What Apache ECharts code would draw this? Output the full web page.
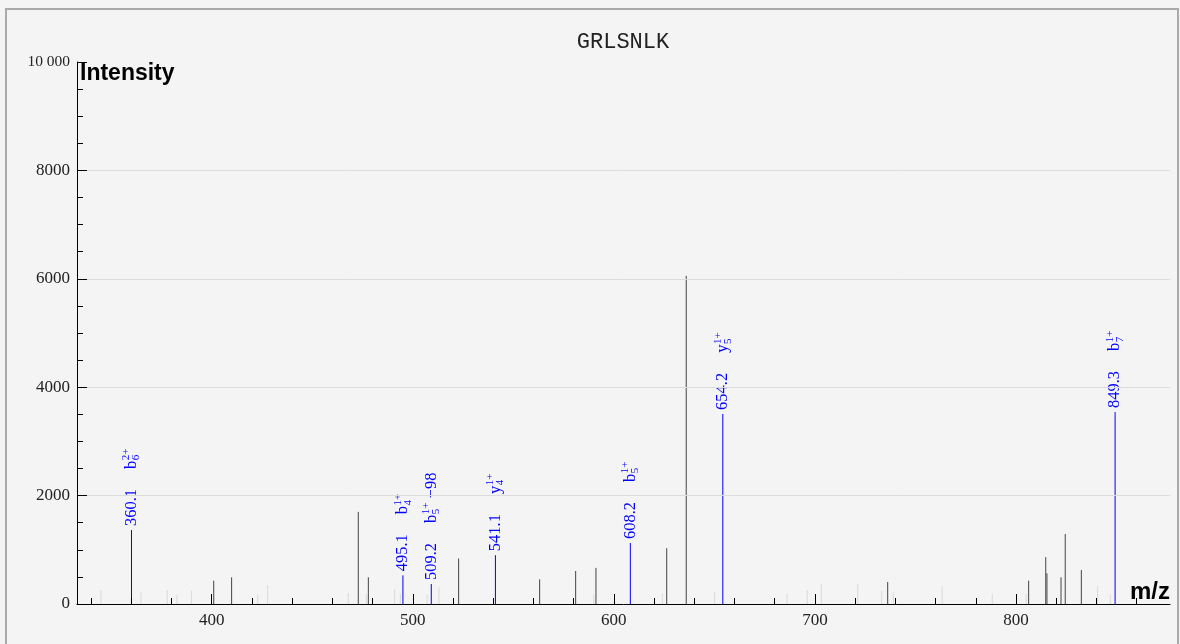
<!DOCTYPE html>
<html>
<head>
<meta charset="utf-8">
<script src="https://cdn.jsdelivr.net/npm/echarts@6/dist/echarts.min.js"></script>
<style>
  html, body { margin: 0; padding: 0; background: #f4f4f4; }
  #spectrum { width: 1180px; height: 644px; }
  #frame { position: absolute; left: 5px; top: 8px; width: 1170px; height: 660px; border: 2px solid #aaa; pointer-events: none; }
</style>
</head>
<body>
<div id="spectrum"></div>
<div id="frame"></div>
<script>
var peptide = 'GRLSNLK';

// unmatched peaks (dark)
var peakMz  = [401.0, 409.9, 472.9, 477.9, 522.8, 563.1, 581.0, 591.1, 626.3, 636.0, 736.2, 806.3, 814.8, 815.4, 822.4, 824.5, 832.5];
var peakInt = [430, 492, 1700, 492, 840, 455, 609, 667, 1030, 6055, 406, 430, 865, 566, 492, 1291, 627];

// faint peaks (light grey)
var faintMz  = [344.9, 364.8, 377.9, 382.7, 389.9, 422.9, 427.8, 467.9, 476.9, 491.0, 493.8, 507.1, 513.0, 590.0, 624.1, 650.1, 686.1, 696.2, 703.2, 721.3, 733.2, 739.0, 763.3, 788.2, 805.1, 840.6, 846.9];
var faintInt = [258, 221, 258, 172, 246, 178, 344, 200, 184, 271, 184, 172, 310, 172, 190, 215, 190, 258, 363, 363, 246, 221, 332, 184, 184, 332, 172];

// matched fragment ions
var ionMz     = [360.1, 495.1, 509.2, 541.1, 608.2, 654.2, 849.3];
var ionInt    = [1365, 529, 369, 900, 1125, 3506, 3541];
var ionType   = ['b', 'b', 'b', 'y', 'b', 'y', 'b'];
var ionIndex  = ['6', '4', '5', '4', '5', '5', '7'];
var ionCharge = ['2+', '1+', '1+', '1+', '1+', '1+', '1+'];
var ionLoss   = ['', '', '\u221298', '', '', '', ''];

// axis ticks
var xMajorTicks = [400, 500, 600, 700, 800];
var xMinorTicks = [340, 360, 380, 420, 440, 460, 480, 520, 540, 560, 580, 620, 640, 660, 680, 720, 740, 760, 780, 820, 840, 860];
var yTicks    = [0, 2000, 4000, 6000, 8000, 10000];
var yTickText = ['0', '2000', '4000', '6000', '8000', '{s|10 000}'];

var serif = 'Liberation Serif';
var blue = '#0000ff';
var numSize = 16.5, smallSize = 11;

var measureCtx = document.createElement('canvas').getContext('2d');
function textWidth(t, size) {
  measureCtx.font = size + 'px "' + serif + '"';
  return measureCtx.measureText(t).width;
}

function stick(color) {
  return function (params, api) {
    var base = api.coord([api.value(0), 0]);
    var top = api.coord([api.value(0), api.value(1)]);
    return {
      type: 'line',
      shape: { x1: base[0], y1: base[1], x2: top[0], y2: top[1] },
      style: { stroke: color, lineWidth: 1 }
    };
  };
}

function txt(x, y, text, size) {
  return {
    type: 'text', x: x, y: y,
    style: {
      text: text, fontSize: size, fontFamily: serif, fill: blue,
      align: 'left', verticalAlign: 'middle', textAlign: 'left', textVerticalAlign: 'middle'
    }
  };
}

function renderIon(params, api) {
  var i = params.dataIndex;
  var base = api.coord([api.value(0), 0]);
  var top = api.coord([api.value(0), api.value(1)]);
  var num = ionMz[i].toFixed(1);
  var x0 = textWidth(num, numSize) + 20;
  var x1 = x0 + textWidth(ionType[i], numSize) + 0.5;
  var stackW = Math.max(textWidth(ionCharge[i], smallSize), textWidth(ionIndex[i], smallSize));
  var kids = [
    txt(0, 0, num, numSize),
    txt(x0, 0, ionType[i], numSize),
    txt(x1, -5, ionCharge[i], smallSize),
    txt(x1, 5, ionIndex[i], smallSize)
  ];
  if (ionLoss[i]) kids.push(txt(x1 + stackW + 4, 0, ionLoss[i], numSize));
  return {
    type: 'group',
    children: [{
      type: 'line',
      shape: { x1: base[0], y1: base[1], x2: top[0], y2: top[1] },
      style: { stroke: blue, lineWidth: 1 }
    }, {
      type: 'group', x: top[0], y: top[1] - 4, rotation: Math.PI / 2,
      children: kids
    }]
  };
}

function pairs(a, b) {
  return a.map(function (v, i) { return [v, b[i]]; });
}

var chart = echarts.init(document.getElementById('spectrum'));

var option = {
  backgroundColor: '#f4f4f4',
  animation: false,
  title: {
    text: peptide,
    left: 623,
    top: 31,
    padding: 0,
    textAlign: 'center',
    textStyle: { fontFamily: 'Liberation Mono', fontSize: 22, fontWeight: 'normal', color: '#222' }
  },
  grid: { left: 77, right: 10, top: 62, bottom: 40 },
  xAxis: [{
    type: 'value',
    min: 333,
    max: 876.6,
    position: 'bottom',
    z: 5,
    name: 'm/z',
    nameLocation: 'end',
    nameGap: 0,
    nameTextStyle: { fontFamily: 'Liberation Sans', fontWeight: 'bold', fontSize: 24, color: '#000', align: 'right', verticalAlign: 'bottom' },
    axisLine: { lineStyle: { color: '#000', width: 1 } },
    axisTick: { inside: true, length: 10, customValues: xMajorTicks, lineStyle: { color: '#000' } },
    axisLabel: { customValues: xMajorTicks, margin: 8, fontFamily: serif, fontSize: 17, color: '#222' },
    splitLine: { show: false }
  }, {
    type: 'value',
    min: 333,
    max: 876.6,
    position: 'bottom',
    z: 5,
    axisLine: { show: false },
    axisTick: { inside: true, length: 6, customValues: xMinorTicks, lineStyle: { color: '#000' } },
    axisLabel: { show: false },
    splitLine: { show: false }
  }],
  yAxis: {
    type: 'value',
    min: 0,
    max: 10000,
    interval: 2000,
    z: 5,
    name: 'Intensity',
    nameLocation: 'end',
    nameGap: 0,
    nameTextStyle: { fontFamily: 'Liberation Sans', fontWeight: 'bold', fontSize: 23, color: '#000', align: 'left', verticalAlign: 'top', padding: [0, 0, 0, 3] },
    axisLine: { show: true, lineStyle: { color: '#000', width: 1 } },
    axisTick: { show: true, inside: true, length: 10, lineStyle: { color: '#000' } },
    minorTick: { show: true, splitNumber: 4, length: 6, lineStyle: { color: '#000' } },
    axisLabel: {
      margin: 7, fontFamily: serif, fontSize: 17, color: '#222',
      formatter: function (v) { return yTickText[yTicks.indexOf(v)]; },
      rich: { s: { fontFamily: serif, fontSize: 15.5, color: '#222' } }
    },
    splitLine: { show: true, showMaxLine: false, lineStyle: { color: '#dcdcdc', width: 1 } }
  },
  series: [{
    type: 'custom',
    name: 'faint',
    clip: false,
    renderItem: stick('#d9d9d9'),
    encode: { x: 0, y: 1 },
    data: pairs(faintMz, faintInt)
  }, {
    type: 'custom',
    name: 'peaks',
    clip: false,
    renderItem: stick('#444'),
    encode: { x: 0, y: 1 },
    data: pairs(peakMz, peakInt)
  }, {
    type: 'custom',
    name: 'ions',
    clip: false,
    renderItem: renderIon,
    encode: { x: 0, y: 1 },
    data: pairs(ionMz, ionInt)
  }]
};
chart.setOption(option);
</script>
</body>
</html>
